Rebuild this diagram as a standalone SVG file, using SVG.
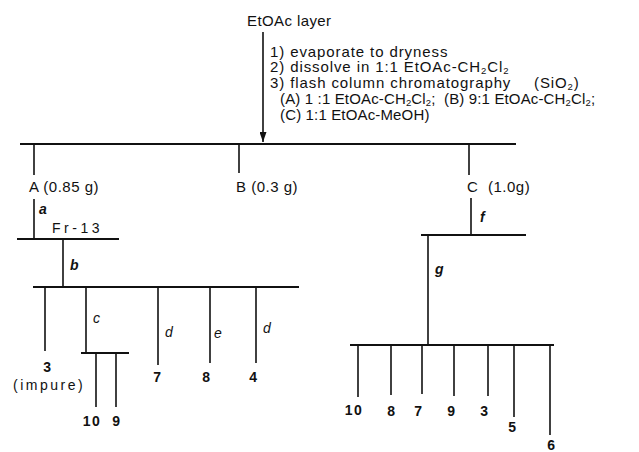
<svg xmlns="http://www.w3.org/2000/svg" width="639" height="452" viewBox="0 0 639 452">
  <style>
    .t   { font-family: "Liberation Sans", Arial, sans-serif; font-size: 15px; fill: #111; }
    .cond { letter-spacing: 0.9px; }
    .tight { letter-spacing: 0.15px; }
    .lbl { letter-spacing: 0.5px; }
    .sub { font-size: 9.5px; }
    .num { font-weight: bold; font-size: 14px; letter-spacing: 1.5px; }
    .step { font-style: italic; font-size: 14px; }
    .bold { font-weight: bold; }
    .bar { stroke: #111; stroke-width: 2; fill: none; }
    .ln  { stroke: #111; stroke-width: 1.6; fill: none; }
  </style>
  <defs>
    <marker id="arrowhead" viewBox="0 0 10 7" refX="10" refY="3.5" markerWidth="10" markerHeight="7" markerUnits="userSpaceOnUse" orient="auto">
      <path d="M0,0 L10,3.5 L0,7 z" fill="#111"/>
    </marker>
  </defs>

  <rect width="639" height="452" fill="#fff"/>

  <!-- connectors: separation bars and branch lines -->
  <g id="connectors">
    <line class="ln" x1="263" y1="32" x2="263" y2="142" marker-end="url(#arrowhead)"/>
    <!-- first column: fractions A, B, C -->
    <line class="bar" x1="20" y1="144" x2="516" y2="144"/>
    <line class="ln" x1="34" y1="144" x2="34" y2="175"/>
    <line class="ln" x1="239" y1="144" x2="239" y2="173"/>
    <line class="ln" x1="469" y1="144" x2="469" y2="175"/>
    <!-- fraction A branch -->
    <line class="ln" x1="34" y1="199" x2="34" y2="239"/>
    <line class="bar" x1="17" y1="239" x2="119" y2="239"/>
    <line class="ln" x1="63" y1="239" x2="63" y2="287"/>
    <line class="bar" x1="33" y1="287" x2="299" y2="287"/>
    <line class="ln" x1="45" y1="287" x2="45" y2="351"/>
    <line class="ln" x1="86" y1="287" x2="86" y2="353"/>
    <line class="bar" x1="81" y1="353" x2="129" y2="353"/>
    <line class="ln" x1="96" y1="353" x2="96" y2="407"/>
    <line class="ln" x1="116" y1="353" x2="116" y2="407"/>
    <line class="ln" x1="158" y1="287" x2="158" y2="365"/>
    <line class="ln" x1="210" y1="287" x2="210" y2="363"/>
    <line class="ln" x1="256" y1="287" x2="256" y2="363"/>
    <!-- fraction C branch -->
    <line class="ln" x1="471" y1="198" x2="471" y2="235"/>
    <line class="bar" x1="421" y1="235" x2="526" y2="235"/>
    <line class="ln" x1="428" y1="235" x2="428" y2="345"/>
    <line class="bar" x1="350" y1="345" x2="554" y2="345"/>
    <line class="ln" x1="358" y1="345" x2="358" y2="397"/>
    <line class="ln" x1="391" y1="345" x2="391" y2="395"/>
    <line class="ln" x1="422" y1="345" x2="422" y2="394"/>
    <line class="ln" x1="454" y1="345" x2="454" y2="396"/>
    <line class="ln" x1="488" y1="345" x2="488" y2="396"/>
    <line class="ln" x1="514" y1="345" x2="514" y2="417"/>
    <line class="ln" x1="550" y1="345" x2="550" y2="435"/>
  </g>

  <!-- starting material and work-up conditions -->
  <g id="node-etoac">
    <text class="t" x="247" y="26" style="letter-spacing:0.4px">EtOAc layer</text>
  </g>
  <g id="node-conditions" class="t">
    <text class="cond" x="270" y="57">1) evaporate to dryness</text>
    <text class="cond" x="270" y="72">2) dissolve in 1:1 EtOAc-CH<tspan class="sub" dy="2">2</tspan><tspan dy="-2">Cl</tspan><tspan class="sub" dy="2">2</tspan></text>
    <text class="cond" x="270" y="88">3) flash column chromatography <tspan x="534">(SiO</tspan><tspan class="sub" dy="2">2</tspan><tspan dy="-2">)</tspan></text>
    <text class="tight" x="280" y="104">(A) 1 :1 EtOAc-CH<tspan class="sub" dy="2">2</tspan><tspan dy="-2">Cl</tspan><tspan class="sub" dy="2">2</tspan><tspan dy="-2">;</tspan><tspan x="444">(B) 9:1 EtOAc-CH</tspan><tspan class="sub" dy="2">2</tspan><tspan dy="-2">Cl</tspan><tspan class="sub" dy="2">2</tspan><tspan dy="-2">;</tspan></text>
    <text class="tight" x="280" y="120">(C) 1:1 EtOAc-MeOH)</text>
  </g>

  <!-- fractions -->
  <g id="node-A"><text class="t lbl" x="29" y="192">A (0.85 g)</text></g>
  <g id="node-B"><text class="t lbl" x="236" y="192">B (0.3 g)</text></g>
  <g id="node-C"><text class="t lbl" x="467" y="192">C</text><text class="t lbl" x="488" y="192">(1.0g)</text></g>
  <g id="node-fr13"><text class="t" x="52" y="233" style="font-size:14px;letter-spacing:3.5px">Fr-13</text></g>

  <!-- step letters -->
  <g id="steps" class="t step">
    <text class="bold" x="39" y="214">a</text>
    <text class="bold" x="70" y="270">b</text>
    <text x="93" y="323">c</text>
    <text x="165" y="337">d</text>
    <text x="214" y="338">e</text>
    <text x="263" y="333">d</text>
    <text class="bold" x="480" y="222">f</text>
    <text class="bold" x="435" y="274">g</text>
  </g>

  <!-- isolated compounds, fraction A -->
  <g id="node-A-3"><text class="t num" x="48" y="372" text-anchor="middle">3</text>
    <text class="t" x="13" y="390" style="font-size:14px;letter-spacing:2.5px">(impure)</text></g>
  <g id="node-A-10"><text class="t num" x="92" y="426" text-anchor="middle">10</text></g>
  <g id="node-A-9"><text class="t num" x="117" y="426" text-anchor="middle">9</text></g>
  <g id="node-A-7"><text class="t num" x="158" y="382" text-anchor="middle">7</text></g>
  <g id="node-A-8"><text class="t num" x="207" y="382" text-anchor="middle">8</text></g>
  <g id="node-A-4"><text class="t num" x="254" y="382" text-anchor="middle">4</text></g>

  <!-- isolated compounds, fraction C -->
  <g id="node-C-10"><text class="t num" x="354" y="415" text-anchor="middle">10</text></g>
  <g id="node-C-8"><text class="t num" x="392" y="416" text-anchor="middle">8</text></g>
  <g id="node-C-7"><text class="t num" x="419" y="416" text-anchor="middle">7</text></g>
  <g id="node-C-9"><text class="t num" x="452" y="416" text-anchor="middle">9</text></g>
  <g id="node-C-3"><text class="t num" x="485" y="416" text-anchor="middle">3</text></g>
  <g id="node-C-5"><text class="t num" x="513" y="432" text-anchor="middle">5</text></g>
  <g id="node-C-6"><text class="t num" x="552" y="450" text-anchor="middle">6</text></g>
</svg>
